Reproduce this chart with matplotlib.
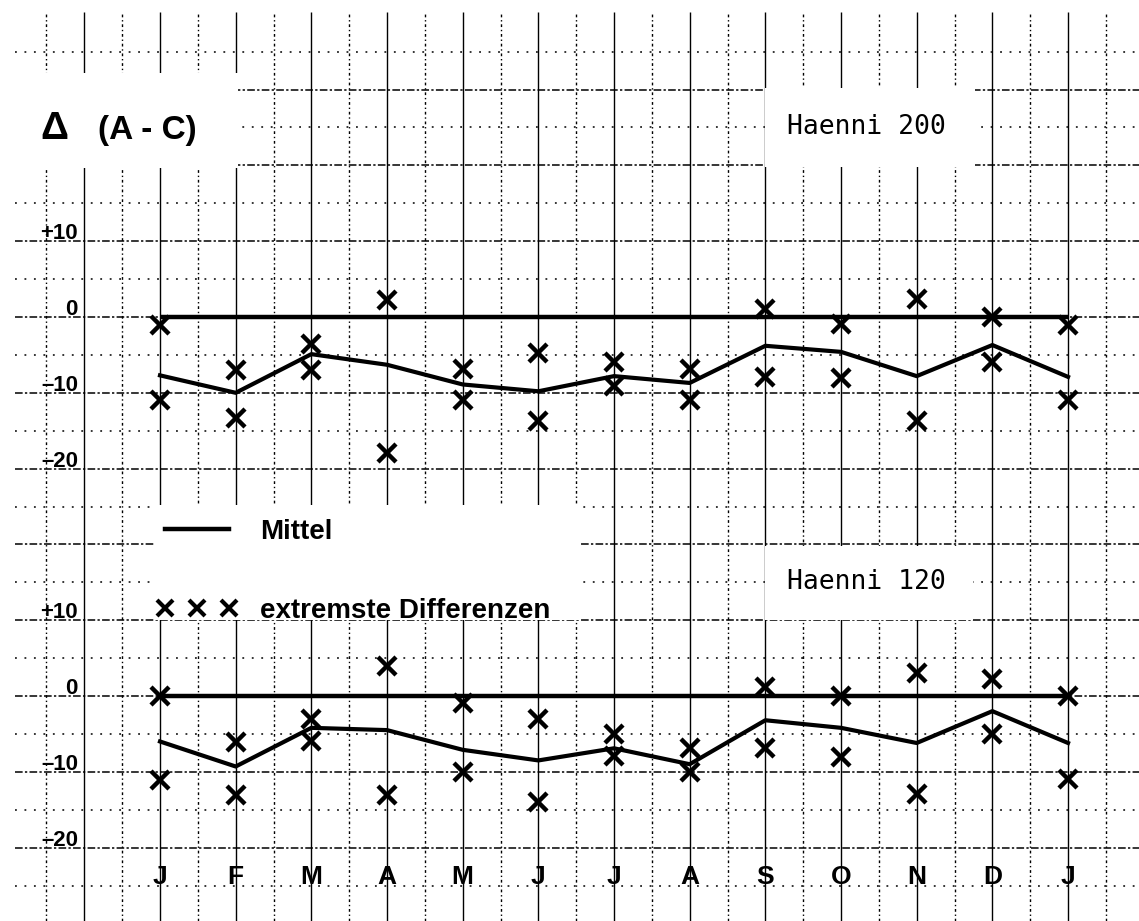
import numpy as np
import matplotlib
matplotlib.use('Agg')
import matplotlib.pyplot as plt
from matplotlib.patches import Rectangle
from matplotlib.lines import Line2D

plt.rcParams['font.family'] = ['Liberation Sans', 'DejaVu Sans']

months = ['J', 'F', 'M', 'A', 'M', 'J', 'J', 'A', 'S', 'O', 'N', 'D', 'J']

# Haenni 200 (upper panel)
mean_200 = [-7.7, -10.0, -4.9, -6.3, -8.9, -9.8, -7.8, -8.7, -3.8, -4.6, -7.8, -3.7, -7.9]
upper_200 = [-1.0, -7.0, -3.5, 2.2, -6.9, -4.8, -5.9, -6.9, 1.1, -0.9, 2.4, 0.0, -1.0]
lower_200 = [-11.0, -13.3, -7.0, -18.0, -10.9, -13.7, -9.1, -10.9, -7.9, -8.0, -13.7, -5.9, -10.9]

# Haenni 120 (lower panel)
mean_120 = [-6.0, -9.3, -4.2, -4.5, -7.1, -8.5, -6.9, -9.0, -3.2, -4.2, -6.2, -2.0, -6.2]
upper_120 = [0.0, -6.1, -3.1, 3.9, -0.9, -3.1, -5.0, -6.8, 1.2, 0.0, 3.1, 2.2, 0.0]
lower_120 = [-11.1, -13.0, -5.9, -13.1, -10.0, -14.0, -7.9, -10.0, -6.9, -8.0, -12.9, -5.0, -10.9]

y_labels = ['+10', '0', '\u201310', '\u201320']
y_label_vals = [10, 0, -10, -20]
panel_offset = -50   # lower panel is drawn 50 units below the upper one

W, H = 1139, 921


def px_x(p):
    return (p - 160) / 75.67


def px_y(p):
    return (317 - p) / 7.58


fig = plt.figure(figsize=(W / 100, H / 100), dpi=100)
ax = fig.add_axes([0, 0, 1, 1])
ax.set_xlim(px_x(0), px_x(W))
ax.set_ylim(px_y(H), px_y(0))
ax.axis('off')

# grid paper
top, bot = px_y(12), px_y(H)
left, right = px_x(15), px_x(W)
ax.vlines(np.arange(-1, 13), bot, top, colors='k', lw=1.0, zorder=1)
ax.vlines(np.arange(-1.5, 13, 1), bot, top, colors='k', lw=1.0,
          linestyles=(0, (2, 2, 1, 2)), zorder=1)
ax.hlines(np.arange(-70, 31, 10), left, right, colors='k', lw=1.1,
          linestyles=(0, (5, 1.5, 1.5, 1.5)), zorder=1)
ax.hlines(np.arange(-75, 36, 10), left, right, colors='k', lw=1.1,
          linestyles=(0, (1.2, 5)), zorder=1)

# white cut-outs on the paper
for (x0, y0, x1, y1) in [(0, 73, 238, 168), (765, 88, 975, 167),
                         (765, 546, 973, 620), (155, 505, 580, 620)]:
    ax.add_patch(Rectangle((x0 / W, 1 - y1 / H), (x1 - x0) / W, (y1 - y0) / H,
                           transform=fig.transFigure, facecolor='white',
                           edgecolor='none', zorder=2, clip_on=False))

x = np.arange(len(months))
for off, mean, up, lo in [(0, mean_200, upper_200, lower_200),
                          (panel_offset, mean_120, upper_120, lower_120)]:
    ax.hlines(off, x[0], x[-1], colors='k', lw=3.2, zorder=3)
    ax.plot(x, np.array(mean) + off, color='k', lw=3.0, zorder=4,
            solid_joinstyle='round')
    ax.plot(x, np.array(up) + off, 'x', color='k', ms=13, mew=3.2, zorder=5)
    ax.plot(x, np.array(lo) + off, 'x', color='k', ms=13, mew=3.2, zorder=5)
    for lab, v in zip(y_labels, y_label_vals):
        ax.text(px_x(78), v + off + 1.0, lab, ha='right', va='center',
                fontsize=16, weight='bold', zorder=6)

for i, m in enumerate(months):
    ax.text(i, px_y(877), m, ha='center', va='center', fontsize=19,
            weight='bold', zorder=6)

fig.text(40 / W, 1 - 139 / H, '\u0394', ha='left', va='baseline',
         fontsize=28, weight='bold', zorder=6)
fig.text(98 / W, 1 - 139 / H, '(A - C)', ha='left', va='baseline',
         fontsize=24, weight='bold', zorder=6)
fig.text(866 / W, 1 - 127 / H, 'Haenni 200', ha='center', va='center',
         fontsize=19, family='DejaVu Sans Mono', zorder=6)
fig.text(866 / W, 1 - 582 / H, 'Haenni 120', ha='center', va='center',
         fontsize=19, family='DejaVu Sans Mono', zorder=6)

handles = [Line2D([], [], color='k', lw=3.2),
           Line2D([], [], color='k', ls='none', marker='x', ms=11, mew=3)]
leg = ax.legend(handles, ['Mittel', 'extremste Differenzen'], numpoints=3,
                loc='upper left', bbox_to_anchor=(157 / W, 1 - 519 / H),
                bbox_transform=fig.transFigure, frameon=False, borderpad=0,
                borderaxespad=0, handlelength=2.9, handletextpad=0.8,
                labelspacing=1.9, prop={'size': 20, 'weight': 'bold'})
leg.set_zorder(6)

plt.savefig('out.png', dpi=100)
